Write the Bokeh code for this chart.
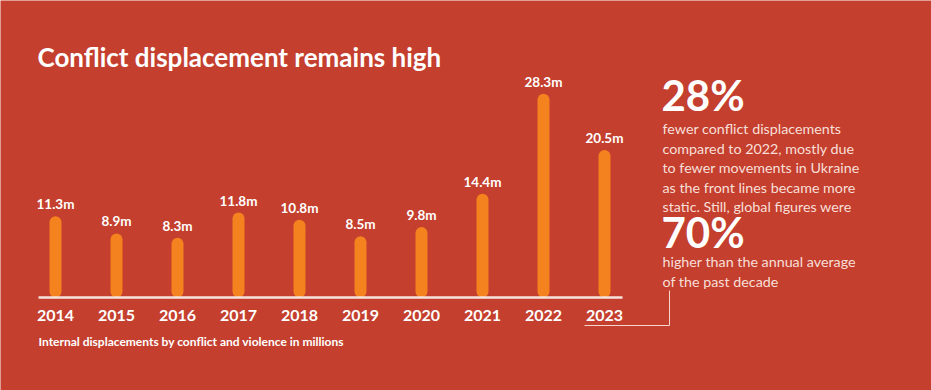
from bokeh.plotting import figure
from bokeh.models import Range1d, Label, ColumnDataSource
from bokeh.core.properties import value
from bokeh.embed import file_html
from bokeh.resources import INLINE

years = [2014, 2015, 2016, 2017, 2018, 2019, 2020, 2021, 2022, 2023]
displacements = [11.3, 8.9, 8.3, 11.8, 10.8, 8.5, 9.8, 14.4, 28.3, 20.5]
value_labels = ["11.3m", "8.9m", "8.3m", "11.8m", "10.8m", "8.5m", "9.8m", "14.4m", "28.3m", "20.5m"]
year_labels = [str(y) for y in years]

title_text = "Conflict displacement remains high"
subtitle_text = "Internal displacements by conflict and violence in millions"
stat1 = "28%"
stat1_lines = ["fewer conflict displacements", "compared to 2022, mostly due",
               "to fewer movements in Ukraine", "as the front lines became more",
               "static. Still, global figures were"]
stat2 = "70%"
stat2_lines = ["higher than the annual average", "of the past decade"]

BG = "#C43F2E"
BAR = "#F4821F"
TXT = "#FFFFFF"
SOFT = "#F8DFD8"
FONT = "Lato"

W, H = 931, 390
PXU = 61.0    # pixels per year
PYU = 7.2     # pixels per million
X_LEFT = 2014 - 55 / PXU
Y_TOP = 297 / PYU

def xd(px):
    return X_LEFT + px / PXU

def yd(py):
    return Y_TOP - py / PYU

p = figure(width=W, height=H, output_backend="svg", toolbar_location=None,
           x_range=Range1d(X_LEFT, X_LEFT + W / PXU),
           y_range=Range1d(Y_TOP - H / PYU, Y_TOP),
           x_axis_location=None, y_axis_location=None,
           min_border=0, min_border_left=0, min_border_right=0,
           min_border_top=0, min_border_bottom=0)
p.background_fill_color = BG
p.border_fill_color = BG
p.outline_line_color = None
p.xgrid.visible = False
p.ygrid.visible = False

cap = 6 / PYU
src = ColumnDataSource(dict(
    x=years, v=displacements,
    y0=[cap] * len(years),
    y1=[v - cap for v in displacements],
    lab=value_labels, yl=year_labels,
    ylab=[yd(315)] * len(years),
))

p.segment(x0="x", y0="y0", x1="x", y1="y1", source=src, line_color=BAR,
          line_width=12, line_cap="round")

# baseline
p.segment(x0=[xd(38)], y0=[0], x1=[xd(622)], y1=[0], line_color="#F6E4DC", line_width=2.5)

p.text(x="x", y="v", text="lab", source=src, text_color=TXT, text_font=value(FONT),
       text_font_style="bold", text_font_size="13.5px", text_align="center",
       text_baseline="middle", y_offset=-12)

p.text(x="x", y="ylab", text="yl", source=src, text_color=TXT, text_font=value(FONT),
       text_font_style="bold", text_font_size="16px", text_align="center",
       text_baseline="middle")

def add_label(text, px, py, size, style="bold", color=TXT):
    p.add_layout(Label(x=xd(px), y=yd(py), text=text, text_color=color,
                       text_font=FONT, text_font_style=style,
                       text_font_size=size, text_baseline="middle",
                       text_align="left"))

add_label(title_text, 37, 56, "26px")
add_label(subtitle_text, 38, 341, "12px")
add_label(stat1, 661, 94, "42px")
for i, line in enumerate(stat1_lines):
    add_label(line, 662, 128 + 19.6 * i, "14.3px", style="normal", color=SOFT)
add_label(stat2, 661, 231, "42px")
for i, line in enumerate(stat2_lines):
    add_label(line, 662, 261 + 19.6 * i, "14.3px", style="normal", color=SOFT)

# connector
p.line(x=[xd(669), xd(669), xd(584)], y=[yd(290), yd(325), yd(325)],
       line_color="#F3D6CE", line_width=1)

open("out.html", "w").write(file_html(p, INLINE))
